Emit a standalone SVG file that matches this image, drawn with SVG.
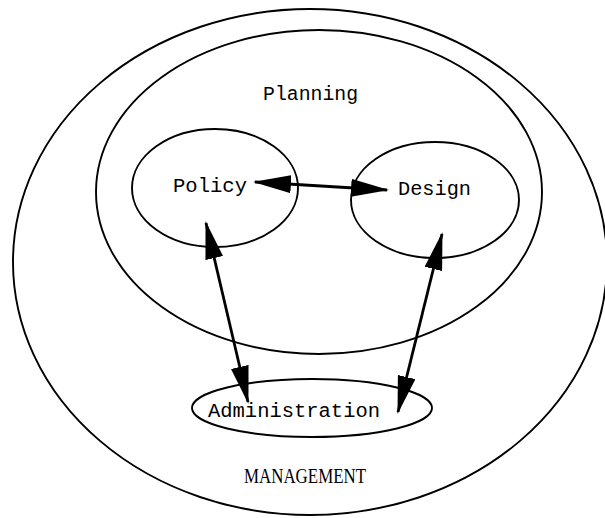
<svg xmlns="http://www.w3.org/2000/svg" width="605" height="518" viewBox="0 0 605 518">
  <style>
    .shape { fill: none; stroke: #000; stroke-width: 1.9; }
    .label { font-family: "Liberation Mono", "DejaVu Sans Mono", monospace; font-size: 20px; fill: #000; }
    .caps { font-family: "Liberation Serif", "DejaVu Serif", serif; font-size: 22px; fill: #000; }
    .conn { fill: none; stroke: #000; stroke-width: 2.8; }
  </style>
  <defs>
    <marker id="head" viewBox="0 0 38 18" refX="36" refY="9" markerWidth="38" markerHeight="18" markerUnits="userSpaceOnUse" orient="auto-start-reverse">
      <path d="M0,0 L38,9 L0,18 Z" fill="#000"/>
    </marker>
  </defs>
  <rect width="605" height="518" fill="#fff"/>
  <g id="management">
    <ellipse class="shape" cx="310" cy="262" rx="297" ry="253"/>
    <text class="caps" x="244" y="483" textLength="122" lengthAdjust="spacingAndGlyphs">MANAGEMENT</text>
  </g>
  <g id="planning">
    <ellipse class="shape" cx="319" cy="192" rx="223" ry="162"/>
    <text class="label" x="263" y="100" textLength="95" lengthAdjust="spacingAndGlyphs">Planning</text>
  </g>
  <g id="policy">
    <ellipse class="shape" cx="215" cy="188" rx="83" ry="59"/>
    <text class="label" x="173" y="192" textLength="74" lengthAdjust="spacingAndGlyphs">Policy</text>
  </g>
  <g id="design">
    <ellipse class="shape" cx="435" cy="200" rx="84" ry="58"/>
    <text class="label" x="398" y="195" textLength="73" lengthAdjust="spacingAndGlyphs">Design</text>
  </g>
  <g id="administration">
    <ellipse class="shape" cx="312" cy="408" rx="120" ry="29"/>
    <text class="label" x="208" y="417" textLength="172" lengthAdjust="spacingAndGlyphs">Administration</text>
  </g>
  <g id="connectors">
    <line class="conn" x1="255" y1="182" x2="387" y2="190" marker-start="url(#head)" marker-end="url(#head)"/>
    <line class="conn" x1="206" y1="223" x2="248" y2="402" marker-start="url(#head)" marker-end="url(#head)"/>
    <line class="conn" x1="442" y1="234" x2="398" y2="412" marker-start="url(#head)" marker-end="url(#head)"/>
  </g>
</svg>
